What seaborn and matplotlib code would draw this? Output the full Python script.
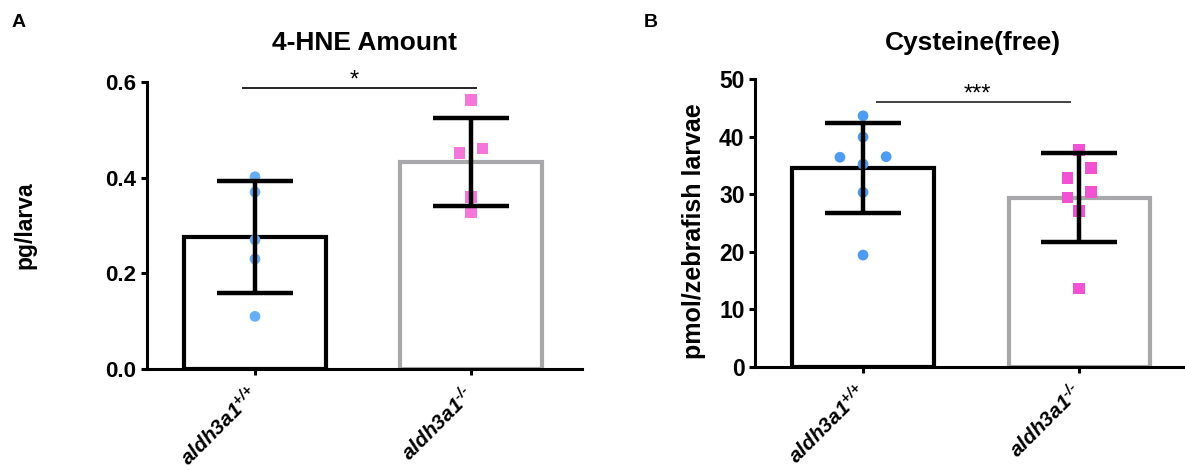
import numpy as np
import pandas as pd
import matplotlib
matplotlib.use("Agg")
import matplotlib.pyplot as plt
import seaborn as sns

# ---- data -------------------------------------------------------------
genotypes = ["+/+", "-/-"]
tick_labels = [r"$\mathit{aldh3a1}^{\text{+/+}}$", r"$\mathit{aldh3a1}^{\text{-/-}}$"]

hne_wt = [0.402, 0.370, 0.270, 0.230, 0.110]
hne_ko = [0.562, 0.461, 0.451, 0.360, 0.329]

cys_wt = [43.6, 39.9, 36.5, 36.4, 35.2, 30.3, 19.4]
cys_ko = [37.6, 34.5, 32.8, 30.4, 29.4, 27.1, 13.6]

panel_letters = ["A", "B"]
titles = ["4-HNE Amount", "Cysteine(free)"]
ylabels = ["pg/larva", "pmol/zebrafish larvae"]
significance = ["*", "***"]

# ---- style ------------------------------------------------------------
sns.set_style("ticks")
plt.rcParams["font.family"] = ["Liberation Sans", "DejaVu Sans"]
plt.rcParams["font.weight"] = "bold"
plt.rcParams["text.color"] = "black"
plt.rcParams["axes.labelcolor"] = "black"
plt.rcParams["xtick.color"] = "black"
plt.rcParams["ytick.color"] = "black"
plt.rcParams["mathtext.fontset"] = "custom"
plt.rcParams["mathtext.it"] = "Liberation Sans:bold:italic"
plt.rcParams["mathtext.rm"] = "Liberation Sans:bold:italic"
plt.rcParams["mathtext.bf"] = "Liberation Sans:bold"
plt.rcParams["mathtext.default"] = "it"

bar_edges = ["#000000", "#A8A8AA"]
point_colors = [["#66AEF5", "#F576DA"], ["#4E9CF2", "#F152D3"]]


def row_offsets(values, tol, step):
    """Spread points that sit at nearly the same height into a row."""
    values = np.asarray(values, dtype=float)
    order = np.argsort(values)
    rows = []
    for i in order:
        if rows and values[i] - values[rows[-1][-1]] < tol:
            rows[-1].append(i)
        else:
            rows.append([i])
    offsets = np.zeros(len(values))
    for row in rows:
        n = len(row)
        slots = sorted(np.arange(n) - (n - 1) / 2, key=lambda s: (abs(s), s))
        for idx, s in zip(row, slots):
            offsets[idx] = s * step
    return offsets


def draw_panel(ax, wt, ko, ymax, yticks, fmt, colors, ytick_size, xlim_right):
    values = list(wt) + list(ko)
    groups = [genotypes[0]] * len(wt) + [genotypes[1]] * len(ko)
    tol = 0.04 * ymax
    pos = np.concatenate([
        0 + row_offsets(wt, tol, 0.107),
        1 + row_offsets(ko, tol, 0.107),
    ])
    df = pd.DataFrame({"genotype": groups, "value": values, "pos": pos})

    sns.barplot(
        data=df, x="genotype", y="value", hue="genotype",
        order=genotypes, hue_order=genotypes, palette=bar_edges,
        fill=False, linewidth=3, width=0.653,
        errorbar="sd", capsize=0.35,
        err_kws={"color": "black", "linewidth": 3.2, "zorder": 3,
                 "solid_capstyle": "butt"},
        legend=False, ax=ax,
    )
    for patch in ax.patches:
        patch.set_joinstyle("miter")

    sns.scatterplot(
        data=df, x="pos", y="value", hue="genotype", style="genotype",
        size="genotype", hue_order=genotypes,
        palette=colors, markers={"+/+": "o", "-/-": "s"},
        sizes={"+/+": 60, "-/-": 72},
        linewidth=0, legend=False, ax=ax, zorder=2,
    )

    ax.set_xlim(-0.5, xlim_right)
    ax.set_ylim(0, ymax)
    ax.set_yticks(yticks)
    ax.set_yticklabels([fmt.format(t) for t in yticks],
                       fontsize=ytick_size, fontweight="bold")
    ax.set_xticks([0, 1])
    ax.set_xticklabels(tick_labels, fontsize=15, rotation=45,
                       ha="right", va="center", rotation_mode="anchor")
    ax.set_xlabel("")
    ax.set_ylabel("")
    sns.despine(ax=ax)
    for side in ("left", "bottom"):
        ax.spines[side].set_linewidth(2.2)
        ax.spines[side].set_color("black")
    ax.tick_params(axis="both", direction="out", length=4.5, width=2.2,
                   color="black", labelcolor="black")
    ax.tick_params(axis="y", pad=3)
    ax.tick_params(axis="x", pad=11)


fig = plt.figure(figsize=(11.85, 4.70), dpi=100)
W, H = 1185, 470
ax_a = fig.add_axes([147 / W, (H - 369) / H, 435 / W, 287 / H])
ax_b = fig.add_axes([755 / W, (H - 366.7) / H, 430 / W, 287.7 / H])

draw_panel(ax_a, hne_wt, hne_ko, 0.6, [0.0, 0.2, 0.4, 0.6], "{:.1f}",
           point_colors[0], 16, 1.514)
draw_panel(ax_b, cys_wt, cys_ko, 50, [0, 10, 20, 30, 40, 50], "{:.0f}",
           point_colors[1], 16.5, 1.49)

# axis titles and labels
ax_a.text(0.501, (369 - 50) / 287, titles[0], transform=ax_a.transAxes,
          ha="center", va="baseline", fontsize=19, fontweight="bold",
          color="black")
ax_b.text(0.507, (366.7 - 50) / 287.7, titles[1], transform=ax_b.transAxes,
          ha="center", va="baseline", fontsize=19, fontweight="bold",
          color="black")

ax_a.set_ylabel(ylabels[0], fontsize=16.5, fontweight="bold", color="black")
ax_a.yaxis.set_label_coords((36 - 147) / 435, 0.5)
ax_b.set_ylabel(ylabels[1], fontsize=18, fontweight="bold", color="black")
ax_b.yaxis.set_label_coords((706 - 755) / 430, 0.472)

# significance brackets
ax_a.plot([-0.06, 1.03], [0.588, 0.588], color="black", lw=1.2,
          solid_capstyle="butt", clip_on=False)
ax_a.text(0.46, 0.590, significance[0], ha="center", va="baseline",
          fontsize=17, fontweight="normal", color="black")
ax_b.plot([0.06, 0.964], [46.0, 46.0], color="#222222", lw=1.2,
          solid_capstyle="butt", clip_on=False)
ax_b.text(0.529, 46.2, significance[1], ha="center", va="baseline",
          fontsize=17, fontweight="normal", color="black")

# panel letters
fig.text(19 / W, 1 - 27 / H, panel_letters[0], ha="center", va="baseline",
         fontsize=14, fontweight="bold", color="black")
fig.text(651 / W, 1 - 27 / H, panel_letters[1], ha="center", va="baseline",
         fontsize=14, fontweight="bold", color="black")

fig.savefig("out.png", dpi=100, facecolor="white")
